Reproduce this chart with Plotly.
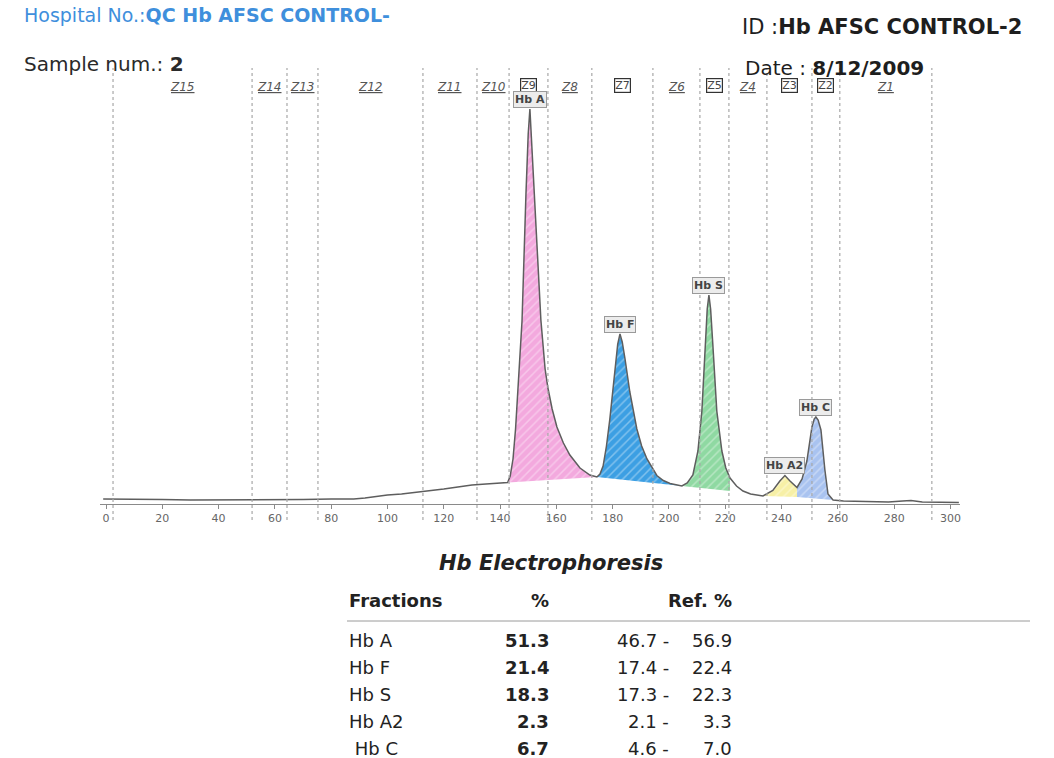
import plotly.graph_objects as go

# ---------------- data ----------------
# electropherogram trace: migration position (x) and signal height (arbitrary units)
curve_x = [-1, 0, 10, 20, 30, 40, 50, 60, 70, 80, 88, 92, 96, 100, 105, 110, 115, 120, 125, 130, 135, 140, 142.7,
           143.6, 144.6, 145.5, 146.4, 147.8, 149.2, 150.0, 150.6, 151.1, 152.4, 154.5, 156.0, 157, 158.5,
           160.2, 162.5, 164.8, 168.4, 171.9, 174.4,
           175.5, 176.6, 177.8, 179, 180, 180.8, 181.8, 182.6, 183.4, 184.4, 186.1, 188.6, 190.3, 192.2, 195.7,
           198, 200.4, 204.6,
           206.5, 208.5, 210.3, 211.7, 212.8, 213.6, 214.2, 214.8, 215.6, 217, 218.8, 220.2, 221.7, 224, 226.3,
           229, 233.4,
           236.9, 239.4, 241.2, 243, 245.5,
           247.3, 249, 250.8, 251.6, 252.2, 253, 254, 254.8, 255.4, 256.5, 258.3,
           262, 270, 278, 283, 286, 290, 300, 303]
curve_h = [5, 5, 5, 4.5, 4, 4, 4, 4, 4.5, 5, 5, 6, 7.5, 9, 10, 11.5, 13, 15, 17, 19, 20, 20.5, 21.5,
           28, 45, 75, 118, 183, 310, 370, 395, 368, 304, 184, 135, 116, 95,
           77, 61, 49, 36, 29, 27,
           30, 38, 58, 85, 112, 135, 160, 170, 162, 145, 112, 75, 58, 45, 28.5,
           23.5, 20.5, 18,
           21, 29, 53, 93, 159, 195, 209, 195, 159, 93, 53, 36, 26, 18, 13,
           10, 8,
           13.5, 23, 28.5, 23, 16.5,
           25, 43, 77, 85, 87, 84, 74, 50, 34, 10, 4,
           3, 2.5, 2, 3, 3.5, 2, 1.5, 1.5]

# integrated fractions (start/end of each peak area and baseline heights there)
fractions = ["Hb A", "Hb F", "Hb S", "Hb A2", "Hb C"]
frac_start = [142.7, 174.4, 204.6, 233.4, 245.5]
frac_end = [174.4, 204.6, 221.7, 245.5, 258.3]
frac_base_start = [21.5, 27, 18, 8, 7]
frac_base_end = [27, 18, 13, 7, 4]
peak_x = [150.6, 182.6, 214.2, 241.2, 252.2]
peak_h = [395, 170, 209, 28.5, 87]

# zone boundaries and names
zone_bounds = [2.5, 51.9, 64.3, 75.3, 112.6, 131.8, 143.2, 157, 172.6, 194.3, 211, 221.3, 234.8, 250.8, 260.7, 293.4]
zone_names = ["Z15", "Z14", "Z13", "Z12", "Z11", "Z10", "Z9", "Z8", "Z7", "Z6", "Z5", "Z4", "Z3", "Z2", "Z1"]
peak_zones = ["Z9", "Z7", "Z5", "Z3", "Z2"]

x_ticks = [0, 20, 40, 60, 80, 100, 120, 140, 160, 180, 200, 220, 240, 260, 280, 300]

# result table
table_names = ["Hb A", "Hb F", "Hb S", "Hb A2", "\u00a0Hb C"]
table_pct = ["51.3", "21.4", "18.3", "2.3", "6.7"]
ref_low = ["46.7", "17.4", "17.3", "2.1", "4.6"]
ref_high = ["56.9", "22.4", "22.3", "3.3", "7.0"]

# ---------------- styling ----------------
W, H = 1054, 758
FONT = "DejaVu Sans"
frac_colors = ["#f3a9de", "#3c9fe3", "#8fd9a2", "#f7f0a6", "#a9c3f0"]
BLUE = "#3f8fdc"


def px(xp):
    return xp / W


def py(yp):
    return 1 - yp / H


fig = go.Figure()

# filled fractions
for i, name in enumerate(fractions):
    s, e = frac_start[i], frac_end[i]
    xs = [x for x in curve_x if s <= x <= e]
    ys = [h for x, h in zip(curve_x, curve_h) if s <= x <= e]
    xs = xs + [e, s, s]
    ys = ys + [frac_base_end[i], frac_base_start[i], ys[0]]
    fig.add_trace(go.Scatter(
        x=xs, y=ys, mode="lines", fill="toself",
        fillcolor=frac_colors[i], line=dict(width=0), hoverinfo="skip",
        fillpattern=dict(shape="/", bgcolor=frac_colors[i], fgcolor="#ffffff",
                         fgopacity=0.35, size=6, solidity=0.25),
        showlegend=False))

# trace line
fig.add_trace(go.Scatter(x=curve_x, y=curve_h, mode="lines",
                         line=dict(color="#5e5e5e", width=1.5), showlegend=False))

# zone dotted lines
for b in zone_bounds:
    fig.add_shape(type="line", xref="x", yref="paper", x0=b, x1=b,
                  y0=py(520), y1=py(68), line=dict(color="#a8a8a8", width=1.2, dash="dot"))

# zone labels
for i, z in enumerate(zone_names):
    xm = (zone_bounds[i] + zone_bounds[i + 1]) / 2
    if z in peak_zones:
        fig.add_annotation(x=xm, xref="x", y=py(78), yref="paper", text=z, showarrow=False,
                           font=dict(family=FONT, size=11, color="#444"),
                           bordercolor="#333", borderwidth=1.2, borderpad=0, bgcolor="white")
    else:
        fig.add_annotation(x=xm, xref="x", y=py(78), yref="paper", text="<i><u>" + z + "</u></i>",
                           showarrow=False, font=dict(family=FONT, size=12, color="#555"))

# peak labels
for i, name in enumerate(fractions):
    fig.add_annotation(x=peak_x[i], y=peak_h[i], xref="x", yref="y", text="<b>" + name + "</b>",
                       showarrow=False, yshift=10, yanchor="middle",
                       font=dict(family=FONT, size=11, color="#444"),
                       bgcolor="#ececec", bordercolor="#9a9a9a", borderwidth=1, borderpad=1)

# header
fig.add_annotation(x=px(22), y=py(15), xref="paper", yref="paper", xanchor="left", yanchor="middle",
                   text="Hospital No.:<b>QC Hb AFSC CONTROL-</b>", showarrow=False,
                   font=dict(family=FONT, size=19, color=BLUE))
fig.add_annotation(x=px(740), y=py(27), xref="paper", yref="paper", xanchor="left", yanchor="middle",
                   text="ID :<b>Hb AFSC CONTROL-2</b>", showarrow=False,
                   font=dict(family=FONT, size=21, color="#1e1e1e"))
fig.add_annotation(x=px(22), y=py(64), xref="paper", yref="paper", xanchor="left", yanchor="middle",
                   text="Sample num.: <b>2</b>", showarrow=False,
                   font=dict(family=FONT, size=20, color="#2a2a2a"))
fig.add_annotation(x=px(743), y=py(68), xref="paper", yref="paper", xanchor="left", yanchor="middle",
                   text="Date : <b>8/12/2009</b>", showarrow=False,
                   font=dict(family=FONT, size=20, color="#1e1e1e"))

# table
TC = "#222"
fig.add_annotation(x=px(551), y=py(563), xref="paper", yref="paper", xanchor="center", yanchor="middle",
                   text="<b><i>Hb Electrophoresis</i></b>", showarrow=False,
                   font=dict(family=FONT, size=21, color=TC))
fig.add_annotation(x=px(347), y=py(600), xref="paper", yref="paper", xanchor="left", yanchor="middle",
                   text="<b>Fractions</b>", showarrow=False, font=dict(family=FONT, size=18, color=TC))
fig.add_annotation(x=px(551), y=py(600), xref="paper", yref="paper", xanchor="right", yanchor="middle",
                   text="<b>%</b>", showarrow=False, font=dict(family=FONT, size=18, color=TC))
fig.add_annotation(x=px(734), y=py(600), xref="paper", yref="paper", xanchor="right", yanchor="middle",
                   text="<b>Ref. %</b>", showarrow=False, font=dict(family=FONT, size=18, color=TC))
fig.add_shape(type="line", xref="paper", yref="paper", x0=px(347), x1=px(1030), y0=py(621), y1=py(621),
              line=dict(color="#9a9a9a", width=1))
for i in range(len(table_names)):
    yy = py(640 + 27 * i)
    fig.add_annotation(x=px(347), y=yy, xref="paper", yref="paper", xanchor="left", yanchor="middle",
                       text=table_names[i], showarrow=False, font=dict(family=FONT, size=18, color=TC))
    fig.add_annotation(x=px(551), y=yy, xref="paper", yref="paper", xanchor="right", yanchor="middle",
                       text="<b>" + table_pct[i] + "</b>", showarrow=False,
                       font=dict(family=FONT, size=18, color=TC))
    fig.add_annotation(x=px(671), y=yy, xref="paper", yref="paper", xanchor="right", yanchor="middle",
                       text=ref_low[i] + " -", showarrow=False, font=dict(family=FONT, size=18, color=TC))
    fig.add_annotation(x=px(734), y=yy, xref="paper", yref="paper", xanchor="right", yanchor="middle",
                       text=ref_high[i], showarrow=False, font=dict(family=FONT, size=18, color=TC))

fig.update_layout(
    width=W, height=H, autosize=False,
    margin=dict(l=0, r=0, t=0, b=0),
    paper_bgcolor="white", plot_bgcolor="white",
    showlegend=False,
    xaxis=dict(domain=[px(100), px(960)], range=[-2.13, 303.4], tickvals=x_ticks,
               showline=True, linecolor="#8a8a8a", linewidth=1, ticks="outside", ticklen=4,
               tickcolor="#8a8a8a", tickfont=dict(family=FONT, size=11, color="#666"),
               showgrid=False, zeroline=False, fixedrange=True),
    yaxis=dict(domain=[py(504), py(60)], range=[0, 444], visible=False, fixedrange=True),
)

fig.write_html("out.html")
